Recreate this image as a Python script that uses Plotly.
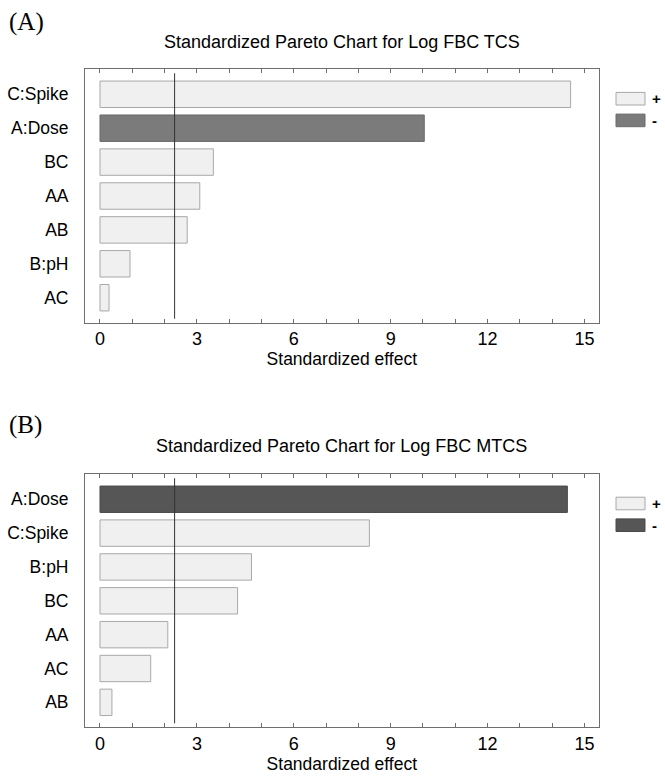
import plotly.graph_objects as go

# ---------------- data ----------------
factors_a = ["C:Spike", "A:Dose", "BC", "AA", "AB", "B:pH", "AC"]
effects_a = [14.57, 10.04, 3.51, 3.09, 2.70, 0.93, 0.28]
signs_a = ["+", "-", "+", "+", "+", "+", "+"]

factors_b = ["A:Dose", "C:Spike", "B:pH", "BC", "AA", "AC", "AB"]
effects_b = [14.47, 8.34, 4.69, 4.26, 2.10, 1.57, 0.37]
signs_b = ["-", "+", "+", "+", "+", "+", "+"]

critical_value = 2.31
x_tick_vals = list(range(0, 16))
x_tick_text = ["0", "", "", "3", "", "", "6", "", "", "9", "", "", "12", "", "", "15"]

title_a = "Standardized Pareto Chart for Log FBC TCS"
title_b = "Standardized Pareto Chart for Log FBC MTCS"
panel_a = "(A)"
panel_b = "(B)"
x_title = "Standardized effect"
legend_labels = ["+", "-"]

# ---------------- styling ----------------
W, H = 665, 776
FONT = "Liberation Sans, Arial, sans-serif"
TXT = "#000000"
LIGHT_FILL, LIGHT_LINE = "#f0f0f0", "#a8a8a8"
DARK_A_FILL, DARK_A_LINE = "#7b7b7b", "#6a6a6a"
DARK_B_FILL, DARK_B_LINE = "#565656", "#4a4a4a"
AXIS_COLOR = "#6e6e6e"

X0_PX, X1_PX = 85, 598.7
A_TOP, A_BOT = 69.3, 322.7
B_TOP, B_BOT = 474.3, 727.3


def px_x(p):
    return p / W


def px_y(p):
    return 1 - p / H


def colors(signs, dark_fill, dark_line):
    fills = [LIGHT_FILL if s == "+" else dark_fill for s in signs]
    lines = [LIGHT_LINE if s == "+" else dark_line for s in signs]
    return fills, lines


fig = go.Figure()

fa, la = colors(signs_a, DARK_A_FILL, DARK_A_LINE)
fb, lb = colors(signs_b, DARK_B_FILL, DARK_B_LINE)

fig.add_trace(go.Bar(
    x=effects_a, y=factors_a, orientation="h", base=0,
    marker=dict(color=fa, line=dict(color=la, width=1)),
    width=0.78, xaxis="x", yaxis="y", showlegend=False, hoverinfo="x+y",
))
fig.add_trace(go.Bar(
    x=effects_b, y=factors_b, orientation="h", base=0,
    marker=dict(color=fb, line=dict(color=lb, width=1)),
    width=0.78, xaxis="x2", yaxis="y2", showlegend=False, hoverinfo="x+y",
))

xaxis_common = dict(
    range=[-0.464, 15.44],
    tickmode="array", tickvals=x_tick_vals, ticktext=x_tick_text,
    ticks="inside", ticklen=4, tickcolor=AXIS_COLOR, tickwidth=1,
    showline=True, linecolor=AXIS_COLOR, linewidth=1, mirror="ticks",
    showgrid=False, zeroline=False,
    tickfont=dict(family=FONT, size=18, color=TXT),
    title=dict(text=x_title, font=dict(family=FONT, size=17.5, color=TXT), standoff=4),
    domain=[px_x(X0_PX), px_x(X1_PX)],
    fixedrange=True,
)
yaxis_common = dict(
    type="category",
    range=[6.737, -0.737],
    ticks="", showline=True, linecolor=AXIS_COLOR, linewidth=1, mirror=True,
    showgrid=False, zeroline=False,
    tickfont=dict(family=FONT, size=17.5, color=TXT),
    ticklabelstandoff=12,
    fixedrange=True,
)

fig.update_layout(
    width=W, height=H,
    margin=dict(l=0, r=0, t=0, b=0),
    paper_bgcolor="white", plot_bgcolor="white",
    showlegend=False,
    xaxis=dict(xaxis_common, anchor="y"),
    yaxis=dict(yaxis_common, anchor="x", domain=[px_y(A_BOT), px_y(A_TOP)],
               categoryorder="array", categoryarray=factors_a),
    xaxis2=dict(xaxis_common, anchor="y2"),
    yaxis2=dict(yaxis_common, anchor="x2", domain=[px_y(B_BOT), px_y(B_TOP)],
                categoryorder="array", categoryarray=factors_b),
)

# critical-value lines
for xr, yr in (("x", "y"), ("x2", "y2")):
    fig.add_shape(type="line", xref=xr, yref=yr,
                  x0=critical_value, x1=critical_value, y0=-0.62, y1=6.62,
                  line=dict(color="#333333", width=1))

# titles and panel letters
annos = [
    dict(text=title_a, x=(X0_PX + X1_PX) / 2 / W, y=px_y(42), font=dict(family=FONT, size=18, color=TXT)),
    dict(text=title_b, x=(X0_PX + X1_PX) / 2 / W, y=px_y(446), font=dict(family=FONT, size=18, color=TXT)),
]
for a in annos:
    fig.add_annotation(xref="paper", yref="paper", xanchor="center", yanchor="middle",
                       showarrow=False, **a)
for txt, yc in ((panel_a, 22), (panel_b, 425)):
    fig.add_annotation(text=txt, xref="paper", yref="paper", x=px_x(7), y=px_y(yc),
                       xanchor="left", yanchor="middle", showarrow=False,
                       font=dict(family="Liberation Serif, Times New Roman, serif", size=25, color=TXT))

# legends (drawn boxes + labels)
legend_specs = [
    (98.7, [(LIGHT_FILL, LIGHT_LINE), (DARK_A_FILL, DARK_A_LINE)]),
    (503.5, [(LIGHT_FILL, LIGHT_LINE), (DARK_B_FILL, DARK_B_LINE)]),
]
for y_first, styles in legend_specs:
    for i, (lab, (fc, lc)) in enumerate(zip(legend_labels, styles)):
        yc = y_first + i * 21.7
        fig.add_shape(type="rect", xref="paper", yref="paper",
                      x0=px_x(616), x1=px_x(645), y0=px_y(yc + 6.3), y1=px_y(yc - 6.3),
                      fillcolor=fc, line=dict(color=lc, width=1))
        fig.add_annotation(text="<b>" + lab + "</b>", xref="paper", yref="paper",
                           x=px_x(650), y=px_y(yc), xanchor="left", yanchor="middle",
                           showarrow=False, font=dict(family=FONT, size=15, color=TXT))

fig.write_html("out.html")
